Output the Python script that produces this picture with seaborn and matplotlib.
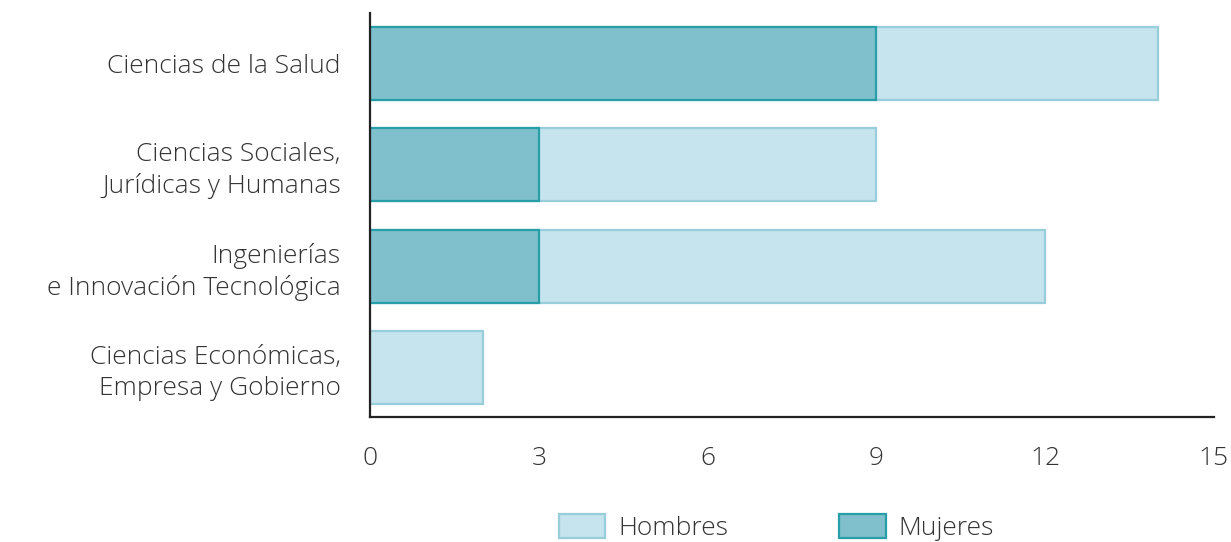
import numpy as np
import pandas as pd
import matplotlib.pyplot as plt
import seaborn as sns
from matplotlib.patches import Patch

# datos
areas = [
    'Ciencias de la Salud',
    'Ciencias Sociales,\nJurídicas y Humanas',
    'Ingenierías\ne Innovación Tecnológica',
    'Ciencias Económicas,\nEmpresa y Gobierno',
]
mujeres = [9, 3, 3, 0]
hombres = [5, 6, 9, 2]
x_ticks = [0, 3, 6, 9, 12, 15]

# colores
c_hom, c_hom_edge = '#c6e4ee', '#98cdda'
c_muj, c_muj_edge = '#80bfcc', '#279ea8'

sns.set_style('white')
plt.rcParams['font.family'] = ['Open Sans', 'DejaVu Sans']
plt.rcParams['font.weight'] = 'light'

df = pd.DataFrame({'area': areas, 'Mujeres': mujeres, 'Hombres': hombres})
df['total'] = df['Mujeres'] + df['Hombres']

fig = plt.figure(figsize=(12.31, 5.42), dpi=100)
ax = fig.add_axes([0.3006, 0.2306, 0.6856, 0.7454])

# total (hombres encima de mujeres)
sns.barplot(data=df, y='area', x='total', orient='h', color=c_hom,
            edgecolor=c_hom_edge, linewidth=1.6, width=0.72, saturation=1, ax=ax)
sns.barplot(data=df, y='area', x='Mujeres', orient='h', color=c_muj,
            edgecolor=c_muj_edge, linewidth=1.6, width=0.72, saturation=1, ax=ax)
for p in ax.patches:
    if p.get_width() == 0:
        p.set_linewidth(0)

ax.set_xlim(0, 15)
ax.set_ylim(3.49, -0.5)
ax.set_xticks(x_ticks)
ax.set_xlabel('')
ax.set_ylabel('')

for s in ['top', 'right']:
    ax.spines[s].set_visible(False)
for s in ['left', 'bottom']:
    ax.spines[s].set_color('#222222')
    ax.spines[s].set_linewidth(1.6)

ax.tick_params(axis='x', direction='in', length=7, width=1.6, color='#222222',
               labelsize=19, pad=21, labelcolor='#333333')
ax.tick_params(axis='y', length=0, labelsize=19, pad=21, labelcolor='#333333')
for t in ax.get_yticklabels():
    t.set_horizontalalignment('right')
    t.set_multialignment('right')
    t.set_linespacing(1.3)

handles = [Patch(facecolor=c_hom, edgecolor=c_hom_edge, linewidth=1.6, label='Hombres'),
           Patch(facecolor=c_muj, edgecolor=c_muj_edge, linewidth=1.6, label='Mujeres')]
fig.legend(handles=handles, loc='center', bbox_to_anchor=(0.631, 0.026), ncol=2,
           frameon=False, fontsize=19, handlelength=1.75, handleheight=1.0,
           handletextpad=0.5, columnspacing=4.2, labelcolor='#333333',
           borderpad=0.1)

fig.savefig('out.png', dpi=100, facecolor='white')
